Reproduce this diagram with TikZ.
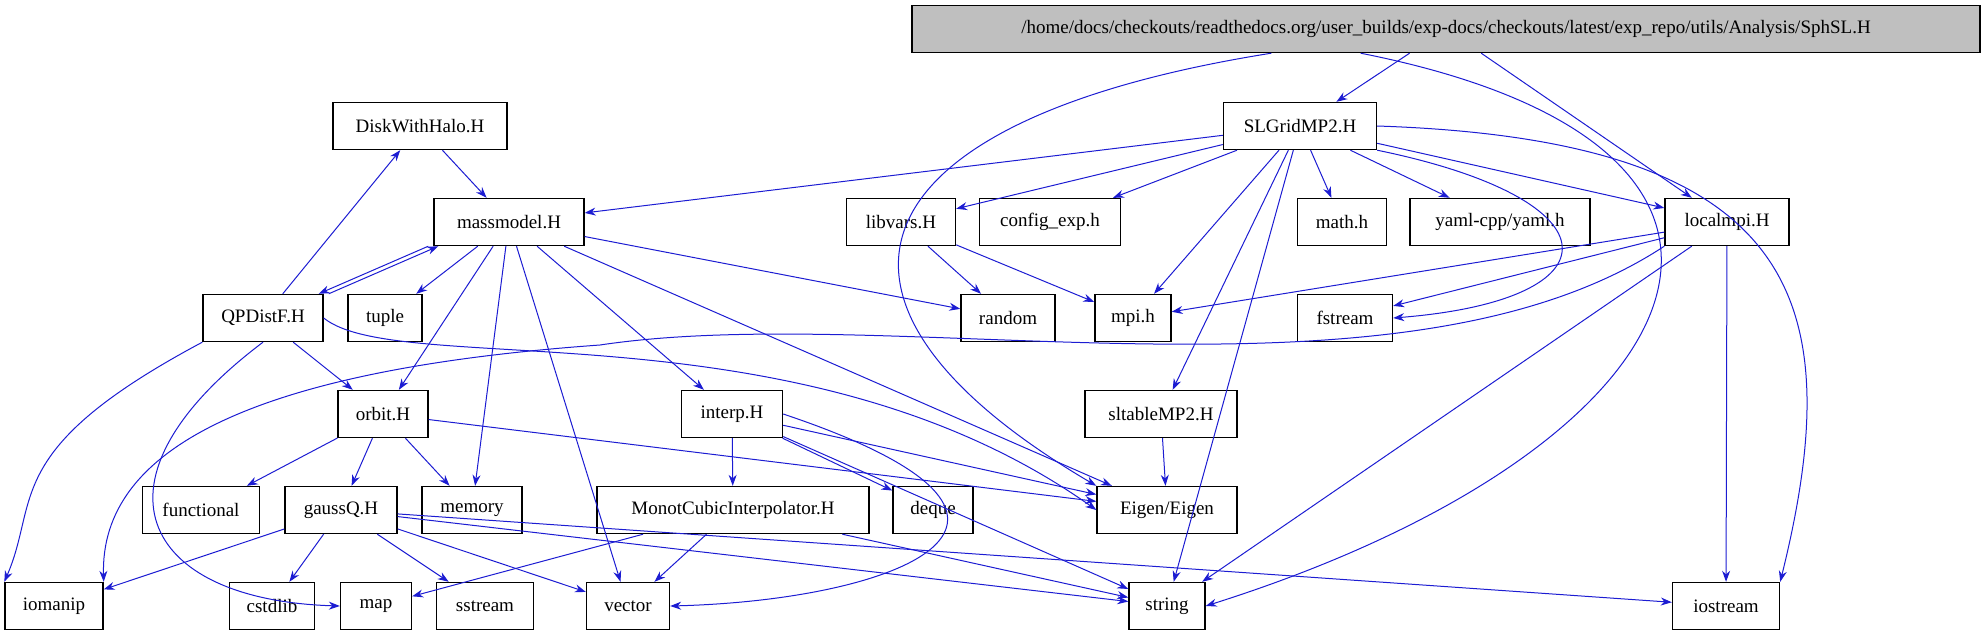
\documentclass[tikz,border=0pt]{standalone}
\usepackage{fontspec}
\setmainfont{Liberation Serif}
\usetikzlibrary{arrows.meta}
\begin{document}
\begin{tikzpicture}[x=1pt,y=-1pt,
  nd/.style={draw,line width=1.4pt,minimum height=47pt,inner xsep=0pt,font=\fontsize{19}{21}\selectfont,fill=white},
  ed/.style={draw={rgb,255:red,28;green,28;blue,210},line width=1pt,-{Stealth[length=11pt,width=8pt]}}]
\useasboundingbox (0,0) rectangle (1987,635);
\node[nd,minimum width=1068pt,fill={rgb,255:red,191;green,191;blue,191}] (top) at (1446,29) {/home/docs/checkouts/readthedocs.org/user\_builds/exp-docs/checkouts/latest/exp\_repo/utils/Analysis/SphSL.H};
\node[nd,minimum width=153pt] (slg) at (1300,126) {SLGridMP2.H};
\node[nd,minimum width=174pt] (disk) at (420,126) {DiskWithHalo.H};
\node[nd,minimum width=150pt] (mass) at (509,222) {massmodel.H};
\node[nd,minimum width=109pt] (libv) at (901,222) {libvars.H};
\node[nd,minimum width=141pt] (conf) at (1050,222) {config\_exp.h};
\node[nd,minimum width=89pt] (math) at (1342,222) {math.h};
\node[nd,minimum width=180pt] (yaml) at (1500,222) {yaml-cpp/yaml.h};
\node[nd,minimum width=124pt] (lmpi) at (1727,222) {localmpi.H};
\node[nd,minimum width=120pt] (qpd) at (263,318) {QPDistF.H};
\node[nd,minimum width=74pt] (tup) at (385,318) {tuple};
\node[nd,minimum width=94pt] (rand) at (1008,318) {random};
\node[nd,minimum width=76pt] (mpi) at (1133,318) {mpi.h};
\node[nd,minimum width=95pt] (fstr) at (1345,318) {fstream};
\node[nd,minimum width=90pt] (orb) at (383,414) {orbit.H};
\node[nd,minimum width=101pt] (interp) at (732,414) {interp.H};
\node[nd,minimum width=152pt] (slt) at (1161,414) {sltableMP2.H};
\node[nd,minimum width=117pt] (func) at (201,510) {functional};
\node[nd,minimum width=112pt] (gauss) at (341,510) {gaussQ.H};
\node[nd,minimum width=100pt] (mem) at (472,510) {memory};
\node[nd,minimum width=272pt] (mono) at (733,510) {MonotCubicInterpolator.H};
\node[nd,minimum width=80pt] (deq) at (933,510) {deque};
\node[nd,minimum width=140pt] (eig) at (1167,510) {Eigen/Eigen};
\node[nd,minimum width=98pt] (iom) at (54,606) {iomanip};
\node[nd,minimum width=85pt] (cstd) at (272,606) {cstdlib};
\node[nd,minimum width=71pt] (map) at (376,606) {map};
\node[nd,minimum width=97pt] (sst) at (485,606) {sstream};
\node[nd,minimum width=83pt] (vec) at (628,606) {vector};
\node[nd,minimum width=76pt] (str) at (1167,606) {string};
\node[nd,minimum width=107pt] (ios) at (1726,606) {iostream};
\foreach \a/\b in {top/slg,top/lmpi,
 slg/mass,slg/libv,slg/conf,slg/mpi,slg/slt,slg/str,slg/math,slg/yaml,slg/lmpi,
 disk/mass,mass/tup,mass/rand,mass/orb,mass/mem,mass/vec,mass/interp,mass/eig,
 qpd/disk,qpd/orb,
 lmpi/mpi,lmpi/fstr,lmpi/str,lmpi/ios,
 libv/rand,libv/mpi,
 orb/func,orb/gauss,orb/mem,orb/eig,
 interp/mono,interp/deq,interp/eig,interp/str,
 gauss/iom,gauss/cstd,gauss/sst,gauss/vec,gauss/str,gauss/ios,
 mono/map,mono/vec,mono/str,slt/eig}
 \draw[ed] (\a) -- (\b);
\draw[ed] ([xshift=-5pt]mass.south west) -- ([xshift=-5pt]qpd.north east);
\draw[ed] ([xshift=5pt]qpd.north east) -- ([xshift=5pt]mass.south west);
\draw[ed] (top.south west) ++(360,0) .. controls (850,120) and (780,300) .. (eig.north west);
\draw[ed] (top.south east) ++(-620,0) .. controls (1850,150) and (1700,450) .. (str.east);
\draw[ed] (slg.east) .. controls (1800,140) and (1850,300) .. (ios.north east);
\draw[ed] (slg.south east) .. controls (1620,200) and (1620,300) .. (fstr.east);
\draw[ed] (qpd.south west) .. controls (0,450) and (40,500) .. (iom.north west);
\draw[ed] (qpd.south) .. controls (80,480) and (140,600) .. (map.west);
\draw[ed] (qpd.east) .. controls (400,380) and (800,300) .. (eig.west);
\draw[ed] (lmpi.south west) .. controls (1400,420) and (900,300) .. (600,345) .. controls (250,370) and (100,450) .. (iom.north east);
\draw[ed] (interp.east) .. controls (1100,520) and (900,600) .. (vec.east);
\end{tikzpicture}
\end{document}
